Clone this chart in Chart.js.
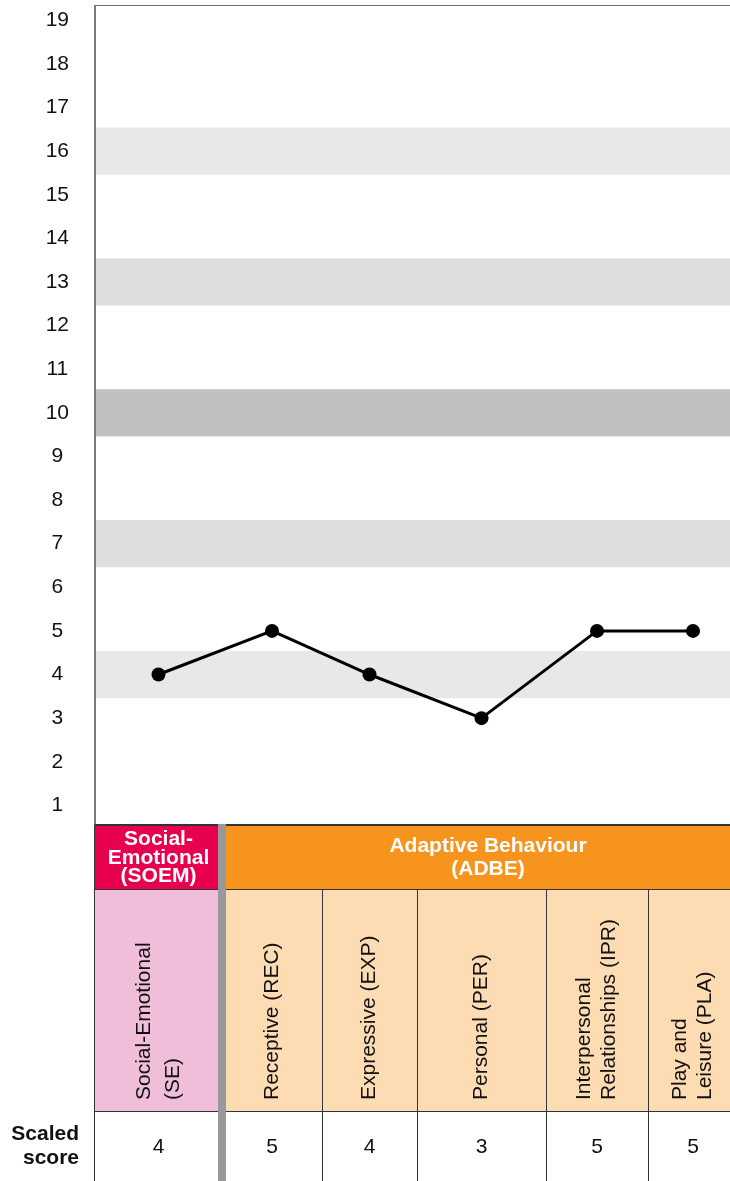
<!DOCTYPE html>
<html>
<head>
<meta charset="utf-8">
<script src="https://cdn.jsdelivr.net/npm/chart.js@4.4.1/dist/chart.umd.min.js"></script>
<style>
    html, body { margin: 0; padding: 0; background: #fff; overflow: hidden; }
    canvas { display: block; }
</style>
</head>
<body>
<canvas id="profileChart" width="730" height="1181"></canvas>
<script>
// Data
const subtests = [
    ['Social-Emotional', '(SE)'],
    ['Receptive (REC)'],
    ['Expressive (EXP)'],
    ['Personal (PER)'],
    ['Interpersonal', 'Relationships (IPR)'],
    ['Play and', 'Leisure (PLA)']
];
const scores = [4, 5, 4, 3, 5, 5];
const domains = [['Social-', 'Emotional', '(SOEM)'], ['Adaptive Behaviour', '(ADBE)']];
const domainSizes = [1, 5];
const yTicks = [1, 2, 3, 4, 5, 6, 7, 8, 9, 10, 11, 12, 13, 14, 15, 16, 17, 18, 19];
const bandValues = [16, 13, 10, 7, 4];

// Layout / style
const colEdges = [0, 127, 227, 322, 451, 553, 643];   // x-scale units, plot left = 0
const bandColors = ['#e8e8e8', '#dedede', '#c0c0c0', '#dedede', '#e8e8e8'];
const domainColors = ['#e8004f', '#f7941d'];
const domainLight = ['#f0bedb', '#fddbb3'];
const FONT = '"Liberation Sans", Arial, sans-serif';
const HEAD_H = 64, NAME_H = 222;

// column membership -> domain index
const colDomain = [];
domainSizes.forEach((n, g) => { for (let i = 0; i < n; i++) colDomain.push(g); });

const colCenter = i => (colEdges[i] + colEdges[i + 1]) / 2;
const points = scores.map((s, i) => ({ x: colCenter(i), y: s }));

const bandsPlugin = {
    id: 'bands',
    beforeDatasetsDraw(chart) {
        const { ctx, chartArea: a, scales: { y } } = chart;
        ctx.save();
        bandValues.forEach((v, i) => {
            const top = y.getPixelForValue(v + 0.54);
            const bot = y.getPixelForValue(v - 0.54);
            ctx.fillStyle = bandColors[i];
            ctx.fillRect(a.left, top, a.right - a.left, bot - top);
        });
        // frame: top + left
        ctx.fillStyle = '#6e6e6e';
        ctx.fillRect(a.left, a.top, a.right - a.left, 1);
        ctx.fillStyle = '#7a7a7a';
        ctx.fillRect(a.left - 1, a.top, 2, a.bottom - a.top);
        ctx.restore();
    }
};

const tablePlugin = {
    id: 'table',
    afterDraw(chart) {
        const { ctx, chartArea: a, scales: { x } } = chart;
        const top = a.bottom;
        const headB = top + HEAD_H;
        const nameB = headB + NAME_H;
        const bottom = chart.height;
        const edge = i => x.getPixelForValue(colEdges[i]);
        ctx.save();

        // header fills + domain titles
        let c = 0;
        domains.forEach((lines, g) => {
            const l = edge(c);
            const r = edge(c + domainSizes[g]);
            ctx.fillStyle = domainColors[g];
            ctx.fillRect(l, top, r - l, HEAD_H);
            ctx.fillStyle = '#fff';
            ctx.font = 'bold 21px ' + FONT;
            ctx.textAlign = 'center';
            ctx.textBaseline = 'middle';
            const lh = lines.length > 2 ? 18.5 : 23;
            const midX = g === 0 ? (l + r) / 2 : (l + a.right + 24) / 2;
            lines.forEach((t, j) => {
                ctx.fillText(t, midX, top + HEAD_H / 2 + (j - (lines.length - 1) / 2) * lh + 1);
            });
            c += domainSizes[g];
        });

        // subtest name cells
        subtests.forEach((lines, i) => {
            const l = edge(i), r = edge(i + 1);
            ctx.fillStyle = domainLight[colDomain[i]];
            ctx.fillRect(l, headB, r - l, NAME_H);
            ctx.fillStyle = '#111';
            ctx.font = '21px ' + FONT;
            ctx.textAlign = 'left';
            ctx.textBaseline = 'middle';
            const cx = (l + r) / 2;
            const gap = i === 0 ? 29 : 25;
            lines.forEach((t, j) => {
                ctx.save();
                ctx.translate(cx + (j - (lines.length - 1) / 2) * gap, nameB - 11);
                ctx.rotate(-Math.PI / 2);
                ctx.fillText(t, 0, 0);
                ctx.restore();
            });
            // score
            ctx.textAlign = 'center';
            ctx.fillText(String(scores[i]), cx, (nameB + bottom) / 2 + 1);
        });

        // row label
        ctx.font = 'bold 21px ' + FONT;
        ctx.textAlign = 'right';
        ctx.fillStyle = '#111';
        ctx.fillText('Scaled', 79, (nameB + bottom) / 2 - 12);
        ctx.fillText('score', 79, (nameB + bottom) / 2 + 12);

        // rules
        ctx.fillStyle = '#333';
        ctx.fillRect(a.left, top - 1, a.right - a.left, 2);
        ctx.fillRect(a.left, headB, a.right - a.left, 1);
        ctx.fillRect(a.left, nameB, a.right - a.left, 1);
        ctx.fillRect(a.left - 1, top, 1, bottom - top);
        for (let i = 2; i < colEdges.length - 1; i++) {
            ctx.fillRect(Math.round(edge(i)), headB, 1, bottom - headB);
        }
        // domain divider
        ctx.fillStyle = '#999';
        ctx.fillRect(edge(1) - 4, top - 1, 8, bottom - top + 1);
        ctx.restore();
    }
};

new Chart(document.getElementById('profileChart'), {
    type: 'line',
    data: {
        datasets: [{
            data: points,
            borderColor: '#000',
            borderWidth: 3,
            pointRadius: 7,
            pointBackgroundColor: '#000',
            pointBorderWidth: 0,
            tension: 0
        }]
    },
    options: {
        responsive: false,
        animation: false,
        events: [],
        layout: { autoPadding: false, padding: { left: 0, top: 5, right: 0, bottom: 356 } },
        plugins: { legend: { display: false }, tooltip: { enabled: false } },
        scales: {
            x: { type: 'linear', min: 0, max: 635, display: false },
            y: {
                type: 'linear',
                min: 0.55,
                max: 19.35,
                grid: { display: false, drawTicks: false },
                border: { display: false },
                ticks: {
                    font: { family: FONT, size: 21 },
                    color: '#111',
                    crossAlign: 'center',
                    padding: 26
                },
                afterBuildTicks(scale) {
                    scale.ticks = yTicks.map(v => ({ value: v }));
                },
                afterFit(scale) {
                    scale.width = 95;
                    scale.paddingTop = 0;
                    scale.paddingBottom = 0;
                }
            }
        }
    },
    plugins: [bandsPlugin, tablePlugin]
});
</script>
</body>
</html>
